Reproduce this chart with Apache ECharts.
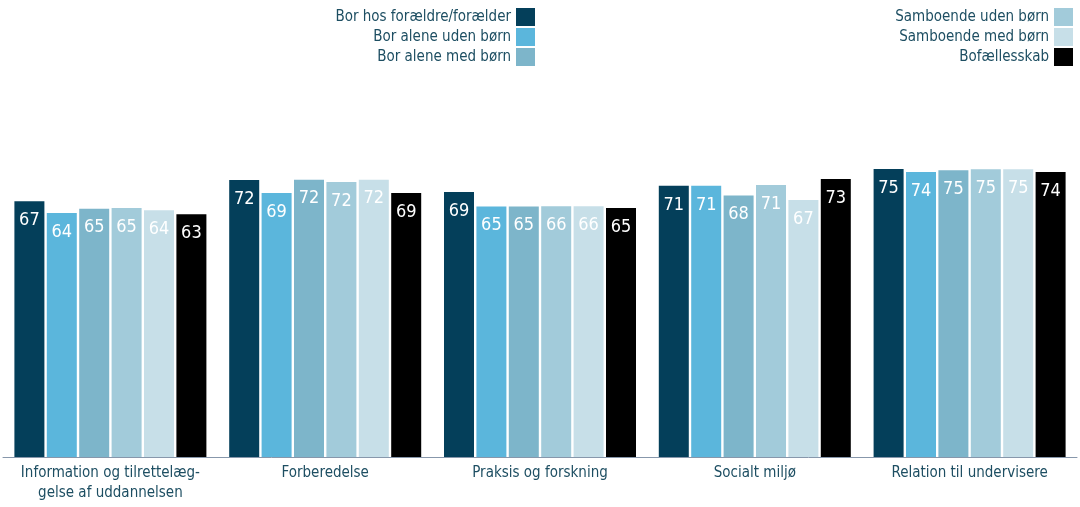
<!DOCTYPE html>
<html><head><meta charset="utf-8">
<script src="https://cdn.jsdelivr.net/npm/echarts@6/dist/echarts.min.js"></script>
<style>html,body{margin:0;padding:0;background:#fff}#c{width:1080px;height:507px}</style>
</head><body><div id="c"></div>
<script>
const categories = ["Information og tilrettelæg-\ngelse af uddannelsen", "Forberedelse", "Praksis og forskning", "Socialt miljø", "Relation til undervisere"];
const seriesNames = ["Bor hos forældre/forælder", "Bor alene uden børn", "Bor alene med børn", "Samboende uden børn", "Samboende med børn", "Bofællesskab"];
const boHos = [66.8, 72.3, 69.2, 70.8, 75.2];
const aleneUden = [63.7, 68.9, 65.4, 70.8, 74.4];
const aleneMed = [64.8, 72.4, 65.4, 68.3, 74.9];
const sambUden = [65.0, 71.8, 65.5, 71.0, 75.1];
const sambMed = [64.4, 72.4, 65.5, 67.1, 75.1];
const bofaelles = [63.4, 68.9, 65.0, 72.6, 74.4];
const colors = ["#043f5a", "#5bb6dc", "#7db5ca", "#a2cbda", "#c7dfe8", "#000000"];
const allData = [boHos, aleneUden, aleneMed, sambUden, sambMed, bofaelles];
const textColor = "#1d4e62";
const font = "DejaVu Sans Condensed, DejaVu Sans";

const chart = echarts.init(document.getElementById('c'));
chart.setOption({
  animation: false,
  color: colors,
  textStyle: {fontFamily: font},
  legend: [
    {data: seriesNames.slice(0,3), orient: 'vertical', right: 540, top: 3, align: 'right',
     itemWidth: 19, itemHeight: 18, itemGap: 2, icon: 'rect',
     textStyle: {color: textColor, fontSize: 15, fontFamily: font}},
    {data: seriesNames.slice(3), orient: 'vertical', right: 2, top: 3, align: 'right',
     itemWidth: 19, itemHeight: 18, itemGap: 2, icon: 'rect',
     textStyle: {color: textColor, fontSize: 15, fontFamily: font}}
  ],
  grid: {left: 3, right: 3, top: 74, bottom: 50, containLabel: false},
  xAxis: {type: 'category', data: categories,
    axisLine: {lineStyle: {color: '#8797ab', width: 1}}, axisTick: {show: false},
    axisLabel: {color: textColor, fontSize: 15, fontFamily: font, margin: 6, lineHeight: 20, interval: 0}},
  yAxis: {type: 'value', min: 0, max: 100, show: false, splitLine: {show: false}},
  series: allData.map((d, i) => ({
    name: seriesNames[i], type: 'bar', data: d, barWidth: 30, barGap: '8%',
    label: {show: true, position: 'insideTop', distance: 10, color: '#fff', fontSize: 18, fontFamily: font,
      formatter: p => Math.round(p.value)}
  }))
});
</script></body></html>
